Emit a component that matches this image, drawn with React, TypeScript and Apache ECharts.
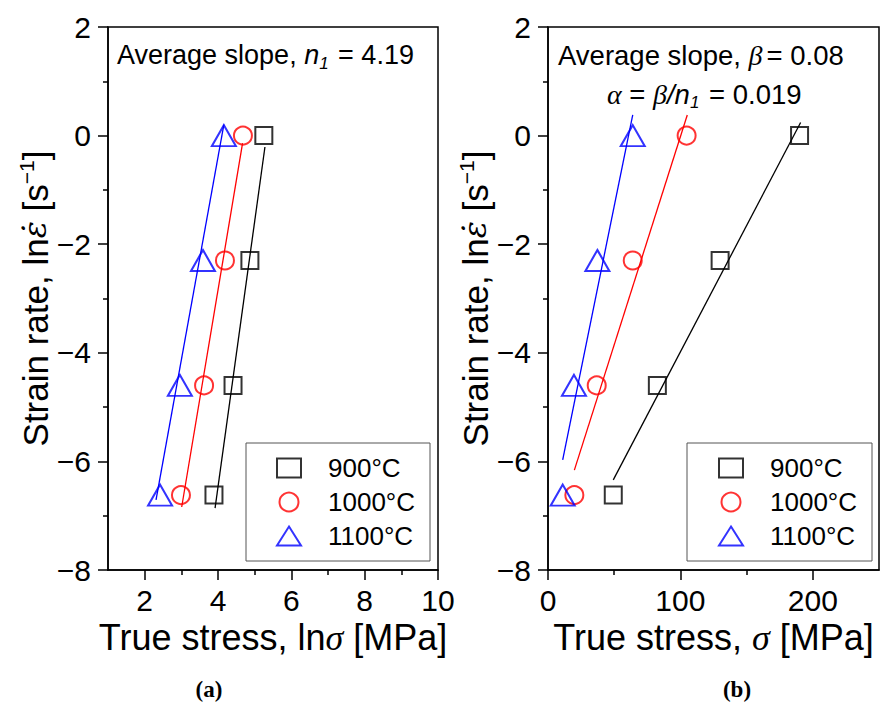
import React, { useEffect, useRef } from 'react';
import * as echarts from 'echarts';

// ---------- data ----------
const tempNames = ['900°C', '1000°C', '1100°C'];
const tempColors = ['#000000', '#ff0000', '#0000ff'];
const tempSymbols = ['rect', 'circle', 'triangle'];

// strain rate, ln(έ) for the four test rates
const lnStrainRate = [0, -2.3, -4.6, -6.62];

// panel (a): ln(true stress)
const lnStress900 = [5.25, 4.87, 4.41, 3.89];
const lnStress1000 = [4.68, 4.19, 3.62, 2.99];
const lnStress1100 = [4.16, 3.59, 2.96, 2.42];
// panel (a): fitted line end points [lnσ, lnέ]
const fitA900 = [[5.28, -0.21], [3.92, -6.86]];
const fitA1000 = [[4.67, -0.14], [3.01, -6.84]];
const fitA1100 = [[4.16, 0.2], [2.31, -6.71]];

// panel (b): true stress (MPa)
const stress900 = [190, 130, 82.6, 49.3];
const stress1000 = [104.7, 64, 36.8, 19.9];
const stress1100 = [64, 37.3, 19.6, 11.1];
// panel (b): fitted line end points [σ, lnέ]
const fitB900 = [[190.8, 0.24], [49.3, -6.34]];
const fitB1000 = [[105.2, 0.38], [19.9, -6.16]];
const fitB1100 = [[64, 0.38], [11.1, -5.97]];

// ticks
const yMin = -8;
const yMax = 2;
const yInterval = 2;
const xAMin = 1;
const xAMax = 10;
const xATicks = [2, 4, 6, 8, 10];
const xAMinor = [3, 5, 7, 9];
const xBMin = 0;
const xBMax = 250;
const xBTicks = [0, 100, 200];
const xBMinor = [50, 150];

const SANS = "'Liberation Sans', Arial, sans-serif";
const SERIF = "'Liberation Serif', 'Times New Roman', serif";
const GREEK = "'DejaVu Serif', 'Liberation Serif', serif";

const minusFmt = (v: number) => (v < 0 ? '\u2212' + Math.abs(v) : String(v));

function zip(xs: number[], ys: number[]) {
  return xs.map((x, i) => [x, ys[i]]);
}

export default function App() {
  const ref = useRef<HTMLDivElement>(null);

  useEffect(() => {
    if (!ref.current) return;
    const chart = echarts.init(ref.current, null, { renderer: 'svg' });

    const grids = [
      { left: 108, top: 27, width: 330, height: 543 },
      { left: 548, top: 27, width: 331, height: 543 },
    ];

    const yAxisBase = (gi: number) => ({
      type: 'value',
      gridIndex: gi,
      min: yMin,
      max: yMax,
      interval: yInterval,
      name: '{a|Strain rate, ln}{e|\u03b5\u0307}{a| [s}{s|\u22121}{a|]}',
      nameLocation: 'middle',
      nameGap: 46,
      nameTextStyle: {
        color: '#000',
        fontFamily: SANS,
        fontSize: 35,
        rich: {
          a: { fontFamily: SANS, fontSize: 35, color: '#000' },
          e: { fontFamily: GREEK, fontStyle: 'italic', fontSize: 32, color: '#000' },
          s: { fontFamily: SANS, fontSize: 21, color: '#000', padding: [0, 0, 18, 0] },
        },
      },
      axisLine: { show: true, onZero: false, lineStyle: { color: '#000', width: 1.5 } },
      axisTick: { show: true, inside: false, length: 10, lineStyle: { color: '#000', width: 1.5 } },
      minorTick: { show: true, splitNumber: 2, length: 5, lineStyle: { color: '#000', width: 1.5 } },
      axisLabel: { color: '#000', fontFamily: SANS, fontSize: 30, margin: 17, formatter: minusFmt },
      splitLine: { show: false },
      minorSplitLine: { show: false },
    });

    const xAxisMain = (gi: number, min: number, max: number, ticks: number[], nameRich: string) => ({
      type: 'value',
      gridIndex: gi,
      min,
      max,
      name: nameRich,
      nameLocation: 'middle',
      nameGap: 44,
      nameTextStyle: {
        color: '#000',
        fontFamily: SANS,
        fontSize: 36,
        rich: {
          a: { fontFamily: SANS, fontSize: 36, color: '#000' },
          g: { fontFamily: SERIF, fontStyle: 'italic', fontSize: 36, color: '#000' },
        },
      },
      axisLine: { show: true, onZero: false, lineStyle: { color: '#000', width: 1.5 } },
      axisTick: { show: true, inside: false, length: 10, customValues: ticks, lineStyle: { color: '#000', width: 1.5 } },
      axisLabel: { color: '#000', fontFamily: SANS, fontSize: 30, margin: 15, customValues: ticks, formatter: minusFmt },
      splitLine: { show: false },
    });

    const xAxisMinor = (gi: number, min: number, max: number, ticks: number[]) => ({
      type: 'value',
      gridIndex: gi,
      min,
      max,
      position: 'bottom',
      axisLine: { show: false, onZero: false },
      axisTick: { show: true, inside: false, length: 5, customValues: ticks, lineStyle: { color: '#000', width: 1.5 } },
      axisLabel: { show: false },
      splitLine: { show: false },
    });

    const scatterSeries = (xi: number, yi: number, xsList: number[][]) =>
      xsList.map((xs, k) => ({
        type: 'scatter',
        name: tempNames[k],
        xAxisIndex: xi,
        yAxisIndex: yi,
        symbol: tempSymbols[k],
        symbolSize: k === 2 ? [24, 21] : k === 1 ? 18 : 17,
        itemStyle: { color: 'rgba(0,0,0,0)', borderColor: tempColors[k], borderWidth: 2 },
        data: zip(xs, lnStrainRate),
        z: 3,
      }));

    const fitSeries = (xi: number, yi: number, fits: number[][][], tag: string) =>
      fits.map((pts, k) => ({
        type: 'line',
        name: 'fit ' + tag + ' ' + tempNames[k],
        xAxisIndex: xi,
        yAxisIndex: yi,
        symbol: 'none',
        lineStyle: { color: tempColors[k], width: 1.3 },
        data: pts,
        z: 2,
      }));

    const legendBase = (left: number, padLeft: number) => ({
      orient: 'vertical',
      left,
      top: 443,
      data: tempNames,
      selectedMode: false,
      padding: [10, 15, 10, padLeft],
      itemGap: 4,
      itemWidth: 24,
      itemHeight: 19,
      borderColor: '#555',
      borderWidth: 1,
      backgroundColor: '#fff',
      textStyle: { color: '#000', fontFamily: SANS, fontSize: 26, lineHeight: 30, padding: [0, 0, 0, 22] },
    });

    const option: any = {
      animation: false,
      backgroundColor: '#fff',
      grid: grids.map((g) => ({ ...g, show: true, borderColor: '#000', borderWidth: 1.5, backgroundColor: 'transparent' })),
      xAxis: [
        xAxisMain(0, xAMin, xAMax, xATicks, '{a|True stress, ln}{g|\u03c3}{a| [MPa]}'),
        xAxisMain(1, xBMin, xBMax, xBTicks, '{a|True stress, }{g|\u03c3}{a| [MPa]}'),
        xAxisMinor(0, xAMin, xAMax, xAMinor),
        xAxisMinor(1, xBMin, xBMax, xBMinor),
      ],
      yAxis: [yAxisBase(0), yAxisBase(1)],
      legend: [legendBase(246, 30), legendBase(687, 31)],
      series: [
        ...fitSeries(0, 0, [fitA900, fitA1000, fitA1100], 'a'),
        ...fitSeries(1, 1, [fitB900, fitB1000, fitB1100], 'b'),
        ...scatterSeries(0, 0, [lnStress900, lnStress1000, lnStress1100]),
        ...scatterSeries(1, 1, [stress900, stress1000, stress1100]),
      ],
      graphic: [
        {
          type: 'text',
          x: 117,
          y: 55,
          style: {
            text: '{a|Average slope, }{i|n}{sub|1}{a| = 4.19}',
            align: 'left',
            verticalAlign: 'middle',
            fill: '#000',
            rich: {
              a: { fontFamily: SANS, fontSize: 27, fill: '#000' },
              i: { fontFamily: SANS, fontStyle: 'italic', fontSize: 27, fill: '#000' },
              sub: { fontFamily: SANS, fontStyle: 'italic', fontSize: 17, fill: '#000', padding: [16, 2, 0, 0] },
            },
          },
        },
        {
          type: 'text',
          x: 558,
          y: 55,
          style: {
            text: '{a|Average slope, }{g|\u03b2}{a|= 0.08}',
            align: 'left',
            verticalAlign: 'middle',
            fill: '#000',
            rich: {
              a: { fontFamily: SANS, fontSize: 27.5, fill: '#000' },
              g: { fontFamily: SERIF, fontStyle: 'italic', fontSize: 28, fill: '#000', padding: [0, 4, 0, 0] },
            },
          },
        },
        {
          type: 'text',
          x: 607,
          y: 94,
          style: {
            text: '{g|\u03b1}{a| = }{g|\u03b2}{i|/n}{sub|1}{a| = 0.019}',
            align: 'left',
            verticalAlign: 'middle',
            fill: '#000',
            rich: {
              a: { fontFamily: SANS, fontSize: 27.5, fill: '#000' },
              g: { fontFamily: SERIF, fontStyle: 'italic', fontSize: 28, fill: '#000' },
              i: { fontFamily: SANS, fontStyle: 'italic', fontSize: 27.5, fill: '#000' },
              sub: { fontFamily: SANS, fontStyle: 'italic', fontSize: 17, fill: '#000', padding: [16, 2, 0, 0] },
            },
          },
        },
        {
          type: 'text',
          x: 209,
          y: 689,
          style: { text: '(a)', align: 'center', verticalAlign: 'middle', fontFamily: SERIF, fontWeight: 'bold', fontSize: 23, fill: '#000' },
        },
        {
          type: 'text',
          x: 737,
          y: 689,
          style: { text: '(b)', align: 'center', verticalAlign: 'middle', fontFamily: SERIF, fontWeight: 'bold', fontSize: 23, fill: '#000' },
        },
      ],
    };

    chart.setOption(option);
    return () => chart.dispose();
  }, []);

  return (
    <div
      ref={ref}
      style={{ position: 'fixed', left: 0, top: 0, width: 880, height: 712, background: '#fff' }}
    />
  );
}
